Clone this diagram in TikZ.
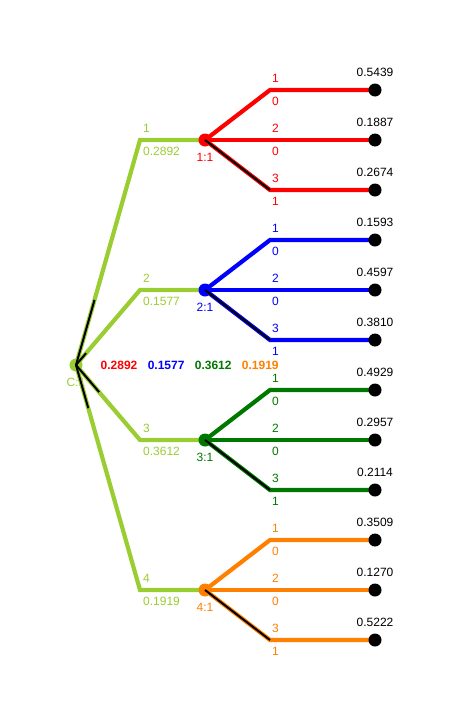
\documentclass[tikz,border=0pt]{standalone}
\usepackage{fontspec}
\setmainfont{Liberation Sans}
\usetikzlibrary{positioning,calc,backgrounds}
\definecolor{chancegreen}{HTML}{9ACD32}
\definecolor{optred}{HTML}{FF0000}
\definecolor{optblue}{HTML}{0000FF}
\definecolor{optgreen}{HTML}{007800}
\definecolor{optorange}{HTML}{FF8000}
\tikzset{
	x=1pt, y=-1pt, % one unit is one pixel, y runs downwards
	font=\fontsize{12}{14}\selectfont, % size of every label
	every node/.style={inner sep=1pt}, % keeps the labels close to the lines
}

\begin{document}
\begin{tikzpicture}[
	branch/.style={line width=4.2pt},
	share/.style={black, line width=2pt},
	dotnode/.style={circle, fill, inner sep=0pt, minimum size=13pt},
	probtext/.style={font=\fontsize{12}{14}\selectfont\bfseries, inner sep=0pt},
	]
	\useasboundingbox (0,0) rectangle (464,715);
	%Nodes
	\node[dotnode, chancegreen] (C) at (76,365) {};
	\node[chancegreen, below=5pt of C] (Clab) {C:1};

	\node[probtext, optred] (p1) at (119,365) {0.2892};
	\node[probtext, optblue, right=10pt of p1] (p2) {0.1577};
	\node[probtext, optgreen, right=10pt of p2] (p3) {0.3612};
	\node[probtext, optorange, right=10pt of p3] (p4) {0.1919};

	%Lines
	\foreach \i/\col/\p/\y/\va/\vb/\vc in {
		1/optred/0.2892/140/0.5439/0.1887/0.2674,
		2/optblue/0.1577/290/0.1593/0.4597/0.3810,
		3/optgreen/0.3612/440/0.4929/0.2957/0.2114,
		4/optorange/0.1919/590/0.3509/0.1270/0.5222}{
		\coordinate (b\i) at (140,\y);
		\node[dotnode, \col] (d\i) at (205,\y) {};
		\node[\col, below=5pt of d\i] (d\i lab) {\i:1};
		\node[chancegreen, above right=6pt and 2pt of b\i] (b\i num) {\i};
		\node[chancegreen, below right=6pt and 2pt of b\i] (b\i prob) {\p};
		\foreach \j/\v/\z in {1/\va/0, 2/\vb/0, 3/\vc/1}{
			\coordinate (e\i\j) at (270,{\y+(\j-2)*50});
			\node[dotnode, black] (t\i\j) at (375,{\y+(\j-2)*50}) {};
			\node[black, above=5pt of t\i\j] (t\i\j val) {\v};
			\node[\col, above right=6pt and 1pt of e\i\j] (e\i\j num) {\j};
			\node[\col, below right=6pt and 1pt of e\i\j] (e\i\j prob) {\z};
			\begin{scope}[on background layer]
				\draw[branch, \col] (d\i.center) -- (e\i\j) -- (t\i\j.center);
			\end{scope}
		}
		\draw[share] (d\i.center) -- (e\i3); % chosen option
		\begin{scope}[on background layer]
			\draw[branch, chancegreen] (C.center) -- (b\i) -- (d\i.center);
		\end{scope}
		\draw[share] (C.center) -- ($(C.center)!\p!(b\i)$);
	}
\end{tikzpicture}
\end{document}
